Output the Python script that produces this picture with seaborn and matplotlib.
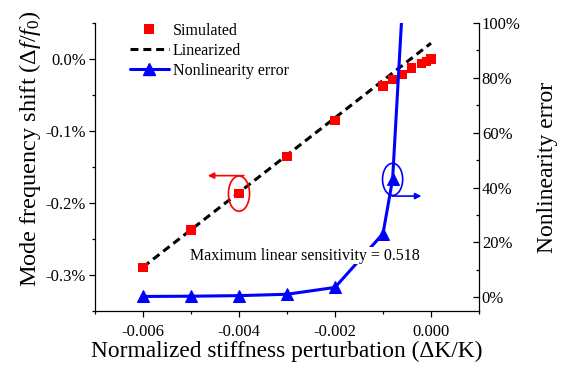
import numpy as np
import pandas as pd
import matplotlib
matplotlib.use("Agg")
import matplotlib.pyplot as plt
import seaborn as sns
from matplotlib.patches import Ellipse
from matplotlib.ticker import FuncFormatter, MultipleLocator
from matplotlib.lines import Line2D

# ---------------- data ----------------
sim_x = [-0.006, -0.005, -0.004, -0.003, -0.002, -0.001, -0.0008, -0.0006,
         -0.0004, -0.0002, -0.0001, 0.0]
sim_y = [-0.289, -0.2375, -0.187, -0.135, -0.085, -0.0375, -0.028, -0.021,
         -0.0125, -0.0056, -0.003, 0.0]          # percent
lin_x = [-0.006, 0.0]
lin_y = [-0.289, 0.022]                          # percent
err_x = [-0.006, -0.005, -0.004, -0.003, -0.002, -0.001, -0.0008, -0.0006]
err_y = [0.3, 0.4, 0.6, 1.1, 3.6, 23.2, 43.0, 105.0]  # percent

x_ticks = [-0.006, -0.004, -0.002, 0.0]
left_ticks = [0.0, -0.1, -0.2, -0.3]
right_ticks = [0, 20, 40, 60, 80, 100]
annot_text = "Maximum linear sensitivity = 0.518"

# ---------------- style ----------------
sns.set_theme(style="ticks")
plt.rcParams["font.family"] = ["Liberation Serif", "DejaVu Serif"]
plt.rcParams["mathtext.fontset"] = "custom"
plt.rcParams["mathtext.rm"] = "Liberation Serif"
plt.rcParams["mathtext.it"] = "Liberation Serif:italic"
plt.rcParams["axes.unicode_minus"] = False
for k in ("text.color", "axes.labelcolor", "xtick.color", "ytick.color",
          "axes.edgecolor"):
    plt.rcParams[k] = "black"

fig = plt.figure(figsize=(5.66, 3.70), dpi=100)
ax = fig.add_axes([95/566, 1-311/370, (479-95)/566, (311-23)/370])
ax2 = ax.twinx()

sim_df = pd.DataFrame({"x": sim_x, "y": sim_y})
lin_df = pd.DataFrame({"x": lin_x, "y": lin_y})
err_df = pd.DataFrame({"x": err_x, "y": err_y})

sns.lineplot(data=lin_df, x="x", y="y", ax=ax, color="black", lw=2.2,
             linestyle=(0, (2.6, 1.6)), legend=False, zorder=2)
sns.scatterplot(data=sim_df, x="x", y="y", ax=ax, color="#FF0000", marker="s",
                s=42, edgecolor="none", linewidth=0, legend=False, zorder=3)
sns.lineplot(data=err_df, x="x", y="y", ax=ax2, color="#0000FF", lw=2.2,
             marker="^", markersize=8, markeredgecolor="#0000FF",
             legend=False, zorder=3)

ax.set_xlim(-0.007, 0.001)
ax.set_ylim(-0.35, 0.05)
ax2.set_ylim(-5, 100)

ax.set_xticks(x_ticks)
ax.xaxis.set_minor_locator(MultipleLocator(0.001))
ax.xaxis.set_major_formatter(FuncFormatter(lambda v, p: f"{v:.3f}"))
ax.set_yticks(left_ticks)
ax.yaxis.set_minor_locator(MultipleLocator(0.05))
ax.yaxis.set_major_formatter(FuncFormatter(lambda v, p: f"{v:.1f}%"))
ax2.set_yticks(right_ticks)
ax2.yaxis.set_minor_locator(MultipleLocator(10))
ax2.yaxis.set_major_formatter(FuncFormatter(lambda v, p: f"{v:.0f}%"))

for a in (ax, ax2):
    for s in a.spines.values():
        s.set_linewidth(0.9)
        s.set_color("black")
    a.spines["top"].set_visible(False)
ax.spines["right"].set_visible(False)
ax2.spines["left"].set_visible(False)
ax2.spines["bottom"].set_visible(False)

ax.tick_params(axis="both", which="major", direction="out", length=4.5,
               width=0.9, labelsize=12, colors="black", pad=2)
ax.tick_params(axis="x", which="major", pad=4.5)
ax.tick_params(axis="both", which="minor", direction="out", length=2.5,
               width=0.9)
ax2.tick_params(axis="y", which="major", direction="in", length=4.5,
                width=0.9, labelsize=12, pad=2, colors="black")
ax2.tick_params(axis="y", which="minor", direction="in", length=2.5,
                width=0.9)

ax.set_xlabel("Normalized stiffness perturbation (ΔK/K)", fontsize=16.8)
ax.xaxis.set_label_coords(0.5, -0.105)
ax.set_ylabel(r"Mode frequency shift ($\mathit{\Delta f}/\mathit{f}_{\mathit{0}}$)",
              fontsize=17.5)
ax.yaxis.set_label_coords(-0.135, 0.565)
ax2.set_ylabel("Nonlinearity error", fontsize=17)
ax2.yaxis.set_label_coords(1.15, 0.5)

# annotations: ellipses and arrows
ax.add_patch(Ellipse((-0.004, -0.187), 0.00044, 0.049, fill=False,
                     edgecolor="#FF0000", lw=1.2, zorder=4))
ax.annotate("", xy=(-0.00465, -0.162), xytext=(-0.0039, -0.162),
            arrowprops=dict(arrowstyle="-|>", color="#FF0000", lw=1.2,
                            mutation_scale=9, shrinkA=0, shrinkB=0))
ax2.add_patch(Ellipse((-0.0008, 43.0), 0.00042, 11.7, fill=False,
                      edgecolor="#0000FF", lw=1.2, zorder=4))
ax2.annotate("", xy=(-0.0002, 36.9), xytext=(-0.00081, 36.9),
             arrowprops=dict(arrowstyle="-|>", color="#0000FF", lw=1.2,
                             mutation_scale=9, shrinkA=0, shrinkB=0))

ax2.text(-0.00502, 15.2, annot_text, fontsize=11.5, ha="left", va="center",
         color="black", zorder=6,
         bbox=dict(facecolor="white", edgecolor="none", pad=0.5))

handles = [
    Line2D([], [], color="#FF0000", marker="s", linestyle="none", markersize=6.5,
           markeredgewidth=0),
    Line2D([], [], color="black", lw=2.2, linestyle=(0, (2.6, 1.6))),
    Line2D([], [], color="#0000FF", lw=2.2, marker="^", markersize=8),
]
labels = ["Simulated", "Linearized", "Nonlinearity error"]
leg = ax2.legend(handles, labels, loc="upper left", bbox_to_anchor=(0.092, 1.0),
                 frameon=False, fontsize=11.5, handlelength=2.4,
                 handletextpad=0.25, labelspacing=0.25, borderpad=0.0,
                 borderaxespad=0.0)
for t in leg.get_texts():
    t.set_color("black")

fig.savefig("out.png", dpi=100)
